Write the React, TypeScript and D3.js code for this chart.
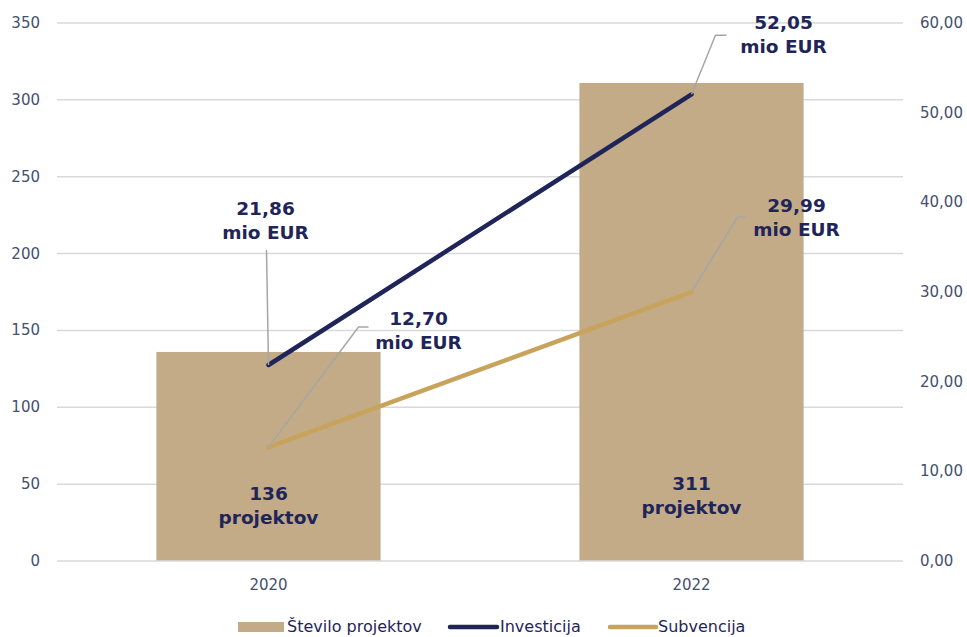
import React from "react";
import * as d3 from "d3";

const categories = ["2020", "2022"];
const projectCounts = [136, 311];
const investicija = [21.86, 52.05];
const subvencija = [12.7, 29.99];
const leftTicks = [0, 50, 100, 150, 200, 250, 300, 350];
const rightTicks = [0, 10, 20, 30, 40, 50, 60];

const W = 967, H = 637;
const M = { left: 57, right: 903, top: 23, bottom: 561 };
const NAVY = "#1F2559";
const GOLD = "#C8A35C";
const TAN = "#C2AB86";
const AXIS = "#44506E";
const FONT = "Verdana, 'DejaVu Sans', sans-serif";

const fmt = (v: number) => v.toFixed(2).replace(".", ",");

export default function App() {
  const x = d3.scaleBand<string>().domain(categories).range([M.left, M.right]).paddingInner(0.47).paddingOuter(0.235);
  const yL = d3.scaleLinear().domain([0, 350]).range([M.bottom, M.top]);
  const yR = d3.scaleLinear().domain([0, 60]).range([M.bottom, M.top]);
  const cx = (c: string) => (x(c) as number) + x.bandwidth() / 2;
  const line = d3.line<number>().x((_, i) => cx(categories[i])).y((d) => yR(d));

  const invLabels = [
    { tx: -3, ty: -150, lead: [[-2, -115]] },
    { tx: 92, ty: -65, lead: [[24, -59], [35, -59]] },
  ];
  const subLabels = [
    { tx: 150, ty: -122, lead: [[90, -120], [100, -120]] },
    { tx: 105, ty: -80, lead: [[46, -75], [55, -75]] },
  ];

  const renderLabel = (val: number, i: number, lay: any, yv: number) => {
    const px = cx(categories[i]);
    const py = yR(yv);
    const pts: [number, number][] = [[px, py], ...lay.lead.map((p: number[]) => [px + p[0], py + p[1]] as [number, number])];
    return (
      <g key={"l" + i + "-" + val}>
        <path d={d3.line()(pts) || ""} fill="none" stroke="#A6A6A6" strokeWidth={1.5} />
        <text x={px + lay.tx} y={py + lay.ty} textAnchor="middle" fontFamily={FONT} fontWeight="bold" fontSize={18.5} fill={NAVY}>
          <tspan x={px + lay.tx} dy={0}>{fmt(val)}</tspan>
          <tspan x={px + lay.tx} dy={24}>mio EUR</tspan>
        </text>
      </g>
    );
  };

  return (
    <svg width={W} height={H} style={{ position: "absolute", left: 0, top: 0, background: "#fff" }}>
      {leftTicks.map((t) => (
        <g key={"g" + t}>
          {t > 0 && <line x1={M.left} x2={M.right} y1={yL(t)} y2={yL(t)} stroke="#D9D9D9" strokeWidth={1.5} />}
          <text x={40} y={yL(t) + 5} textAnchor="end" fontFamily={FONT} fontSize={15} fill={AXIS}>{t}</text>
        </g>
      ))}
      {rightTicks.map((t) => (
        <text key={"r" + t} x={920} y={yR(t) + 5} fontFamily={FONT} fontSize={15} fill={AXIS}>{fmt(t)}</text>
      ))}
      {categories.map((c, i) => (
        <rect key={"b" + c} x={x(c)} y={yL(projectCounts[i])} width={x.bandwidth()} height={M.bottom - yL(projectCounts[i])} fill={TAN} />
      ))}
      <line x1={M.left} x2={M.right} y1={M.bottom} y2={M.bottom} stroke="#D9D9D9" strokeWidth={1.5} />
      {categories.map((c) => (
        <text key={"x" + c} x={cx(c)} y={590} textAnchor="middle" fontFamily={FONT} fontSize={15} fill={AXIS}>{c}</text>
      ))}
      {categories.map((c, i) => (
        <text key={"pc" + c} textAnchor="middle" fontFamily={FONT} fontWeight="bold" fontSize={18.5} fill={NAVY}>
          <tspan x={cx(c)} y={i === 0 ? 500 : 490}>{projectCounts[i]}</tspan>
          <tspan x={cx(c)} dy={24}>projektov</tspan>
        </text>
      ))}
      <path d={line(investicija) || ""} fill="none" stroke={NAVY} strokeWidth={4.5} strokeLinecap="round" />
      <path d={line(subvencija) || ""} fill="none" stroke={GOLD} strokeWidth={4.5} strokeLinecap="round" />
      {investicija.map((v, i) => renderLabel(v, i, invLabels[i], v))}
      {subvencija.map((v, i) => renderLabel(v, i, subLabels[i], v))}
      <g fontFamily={FONT} fontSize={16} fill="#1F2559">
        <rect x={238} y={622} width={46} height={10} fill={TAN} />
        <text x={287} y={632}>Število projektov</text>
        <line x1={450} x2={497} y1={627} y2={627} stroke={NAVY} strokeWidth={4.5} strokeLinecap="round" />
        <text x={500} y={632}>Investicija</text>
        <line x1={610} x2={656} y1={627} y2={627} stroke={GOLD} strokeWidth={4.5} strokeLinecap="round" />
        <text x={658} y={632}>Subvencija</text>
      </g>
    </svg>
  );
}
